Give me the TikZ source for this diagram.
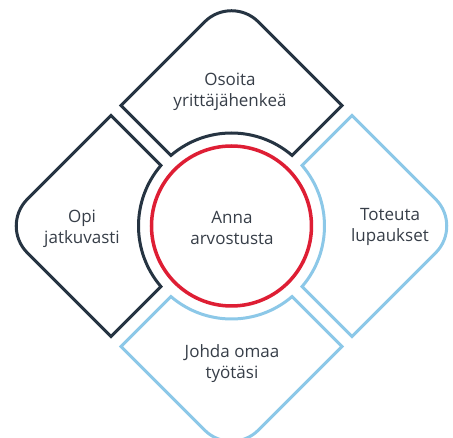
\documentclass[tikz,border=0pt]{standalone}
\usepackage{fontspec}
\setmainfont{Open Sans}
\usetikzlibrary{positioning}
\definecolor{tiledark}{RGB}{38,52,66}
\definecolor{tileblue}{RGB}{140,200,232}
\definecolor{ringred}{RGB}{222,30,52}
\definecolor{labelgray}{RGB}{55,62,72}
\tikzset{
  tile/.style={line width=3pt, line join=miter},
  lbl/.style={align=center, text=labelgray, font=\fontsize{17}{21}\selectfont, inner sep=0pt},
}

\begin{document}
\begin{tikzpicture}[x=1pt,y=1pt]
        \pgfmathsetmacro{\Dout}{231}
        \pgfmathsetmacro{\Gap}{10}
        \pgfmathsetmacro{\Rin}{93}
        \pgfmathsetmacro{\Rtip}{38}
        \pgfmathsetmacro{\Xc}{(\Dout-\Gap)/2}
        \pgfmathsetmacro{\Yc}{(\Dout+\Gap)/2}
        \pgfmathsetmacro{\Ang}{asin(\Gap/(sqrt(2)*\Rin))}
        \pgfmathsetmacro{\Tx}{\Rtip/sqrt(2)}
        \pgfmathsetmacro{\Ty}{\Dout-\Rtip/sqrt(2)}
        \fill[white] (-231.5,-212) rectangle (221.5,226);
        \useasboundingbox (-231.5,-212) rectangle (221.5,226);

\foreach \rot/\col in {0/tiledark,90/tiledark,180/tileblue,270/tileblue}
  \draw[tile,draw=\col,rotate=\rot] (-\Xc,\Yc) -- (-\Tx,\Ty) arc[start angle=135,end angle=45,radius=\Rtip] -- (\Xc,\Yc) -- (45+\Ang:\Rin) arc[start angle=45+\Ang,end angle=135-\Ang,radius=\Rin] -- cycle;
\draw[ringred,line width=3.5pt] (0,0) circle[radius=80];

\node[lbl] (osoita) at (-1.5,134) {Osoita\\yrittäjähenkeä};
\node[lbl] (opi) at (-149.5,-3) {Opi\\jatkuvasti};
\node[lbl] (anna) at (0.5,-2) {Anna\\arvostusta};
\node[lbl] (toteuta) at (158.5,-1) {Toteuta\\lupaukset};
\node[lbl] (johda) at (0.5,-138) {Johda omaa\\työtäsi};
\end{tikzpicture}
\end{document}
